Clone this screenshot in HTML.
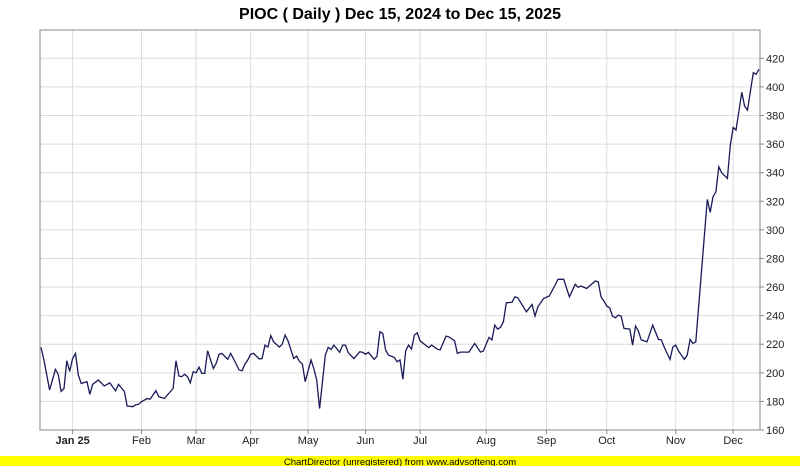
<!DOCTYPE html>
<html><head><meta charset="utf-8"><style>
body{margin:0;background:#fff;}
svg{display:block;font-family:"Liberation Sans",Arial,sans-serif;}
</style></head><body>
<svg id="chart" width="800" height="466">
<text x="400" y="19" text-anchor="middle" font-size="16" font-weight="bold" fill="#000">PIOC ( Daily ) Dec 15, 2024 to Dec 15, 2025</text>
<g id="grid"></g>
<g id="axes"></g>
<path id="line" fill="none" stroke="#1a1a5a" stroke-width="1.3"></path>
<rect x="0" y="456" width="800" height="10" fill="#ffff00"></rect>
<text x="400" y="465" text-anchor="middle" font-size="9.5" fill="#000">ChartDirector (unregistered) from www.advsofteng.com</text>
</svg>
<script>
const days=[0,1,3,5,6,7,8,9,10,11,12,13,14,16,17,18,20,22,24,25,26,27,29,30,32,33,34,35,37,38,40,41,43,44,46,47,48,49,50,51,52,53,54,55,56,57,58,60,61,62,63,65,66,67,69,70,71,72,73,74,76,77,78,79,80,81,83,84,85,86,88,89,90,91,92,94,95,96,97,99,100,101,102,104,105,106,107,109,111,112,113,114,116,117,118,119,120,121,123,124,125,126,127,128,129,130,131,132,135,136,138,139,141,142,144,145,146,149,151,153,154,156,157,158,159,160,161,162,164,165,166,169,171,172,173,175,177,179,180,182,184,186,187,188,190,193,194,195,196,197,198,199,200,201,202,203,205,206,207,208,209,211,213,215,216,217,219,220,221,222,224,225,226,227,228,232,233,234,235,236,237,239,240,241,242,244,245,246,248,249,250];
const prices=[217.8,209,188,202.4,199,187,189,208.5,201,210,213.6,198.5,192.6,193.8,185,192,195,190.8,193,190,187.5,192,187,176.8,176.3,177.7,178,179.8,182,181.5,187.5,183.3,182,184.5,189,208.5,197.8,197.3,199,197.3,193,200.8,200,204,199.6,199.6,215.5,203,206.6,213,213.6,209.4,213.6,210,202,201.5,206,209,213,213.6,209.7,210,219.4,218,226,221.7,218,220,226.4,222.4,210,211.7,208,206,193.8,209,203,195,175,212.4,217.8,216.4,219.4,214.3,219.4,219.4,214,210,214.8,214.3,213,214.3,209.4,211.7,228.7,227.6,216,212.4,210.8,207.8,209,195.5,215.5,219.4,216.6,226.4,228,222.4,217.6,219.4,216.6,216,225.7,225.2,222.4,213.6,214.5,214.5,220.6,214.5,215.2,224.8,223,233.4,230.6,231.8,235.7,249,249.3,253.2,252.5,242.7,247.8,239.7,246.2,252,253.7,261.4,265.4,265.4,253.2,261.9,259.8,260.7,259,264.2,263.7,253.2,250.2,246.7,245.5,239.7,238.5,240.4,239.7,231.1,230.6,219.4,232.7,229.2,223,221.7,233.4,223.4,223,218,209.4,218,219.4,215.2,209.4,212.4,223.4,220.6,221.7,321.3,312.2,323.1,326.6,344.1,339.9,336,359.3,371.7,369.8,396.2,386.6,383.8,409.9,408.8,412.3];
const monthLabels=["Jan 25","Feb","Mar","Apr","May","Jun","Jul","Aug","Sep","Oct","Nov","Dec"];
const monthDays=[11,35,54,73,93,113,132,155,176,197,221,241];
const yTicks=[160,180,200,220,240,260,280,300,320,340,360,380,400,420];

const L=40,R=760,T=30,B=430,NDAYS=250,YMIN=160,YMAX=439.8;
const sx=d=>L+1+d*(R-L-2)/NDAYS;
const sy=v=>B-(v-YMIN)*(B-T)/(YMAX-YMIN);
const NS="http://www.w3.org/2000/svg";
const grid=document.getElementById('grid'),axes=document.getElementById('axes');
function mk(tag,attrs,parent){const e=document.createElementNS(NS,tag);for(const k in attrs)e.setAttribute(k,attrs[k]);parent.appendChild(e);return e;}

yTicks.forEach(v=>{
  const y=sy(v);
  const g=mk('line',{x1:L,x2:R,y1:y,y2:y,stroke:'#dcdcdc','stroke-width':1},grid);
  
  
  mk('line',{x1:R,x2:R+4,y1:y,y2:y,stroke:'#888','stroke-width':1},axes);
  const t=mk('text',{x:R+6,y:y+4,'font-size':11,fill:'#222'},axes);
  t.textContent=v;
  
  
});
monthDays.forEach((d,i)=>{
  const x=sx(d);
  const g=mk('line',{x1:x,x2:x,y1:T,y2:B,stroke:'#dcdcdc','stroke-width':1},grid);
  
  
  mk('line',{x1:x,x2:x,y1:B,y2:B+4,stroke:'#888','stroke-width':1},axes);
  const t=mk('text',{x:x,y:B+14,'font-size':11,fill:'#222','text-anchor':'middle','font-weight':i===0?'bold':'normal'},axes);
  t.textContent=monthLabels[i];
  
  
});
const box=mk('rect',{x:L,y:T,width:R-L,height:B-T,fill:'none',stroke:'#888','stroke-width':1},axes);



let p='';
days.forEach((d,i)=>{p+=(i?'L':'M')+sx(d).toFixed(1)+','+sy(prices[i]).toFixed(1);});
document.getElementById('line').setAttribute('d',p);
</script>
</body></html>
